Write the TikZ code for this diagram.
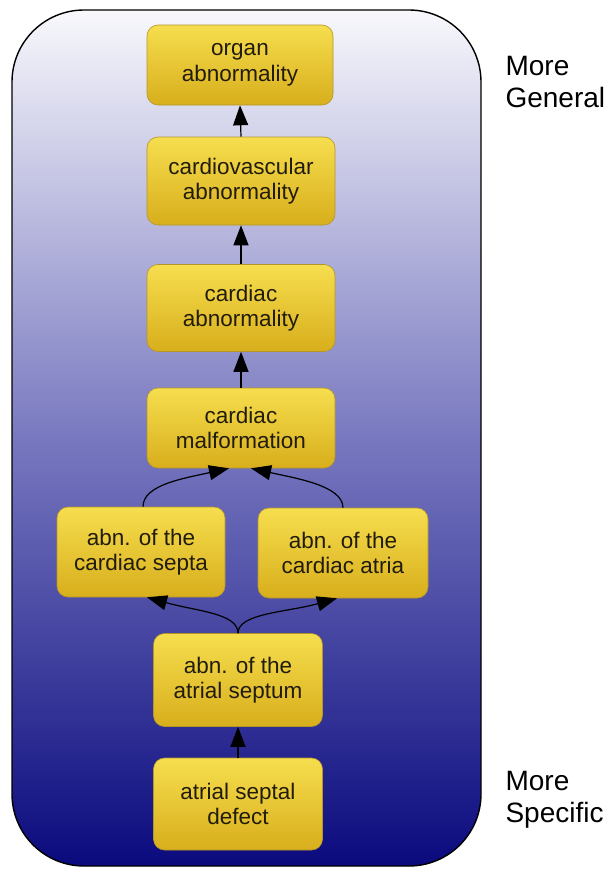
\documentclass[tikz,border=0pt]{standalone}
\usepackage{fontspec}
\setmainfont{Liberation Sans}
\usetikzlibrary{arrows.meta,positioning,calc}

\definecolor{panelTop}{RGB}{248,248,252}
\definecolor{panelMid}{RGB}{120,120,192}
\definecolor{panelBot}{RGB}{10,10,126}
\definecolor{boxTop}{RGB}{246,222,78}
\definecolor{boxBot}{RGB}{216,174,28}
\definecolor{boxEdge}{RGB}{180,150,40}
\definecolor{ink}{RGB}{34,28,12}

\tikzset{
  term/.style={draw=boxEdge, line width=0.6pt, rounded corners=11pt,
    top color=boxTop, bottom color=boxBot, text=ink, align=center,
    font=\fontsize{22.5}{25.5}\selectfont, inner sep=0pt},
  isa/.style={draw=black, line width=1.2pt,
    -{Triangle[length=20pt,width=15pt]}},
  side/.style={align=left, anchor=west, text=black,
    font=\fontsize{28}{32}\selectfont}
}

\begin{document}
\begin{tikzpicture}[x=1pt,y=-1pt]
\useasboundingbox (0,0) rectangle (613,870);

% background panel with vertical gradient
\draw[line width=1.4pt, rounded corners=72pt, top color=panelTop, bottom color=panelBot,
      middle color=panelMid]
  (12,10) rectangle (481,866);

% hierarchy of terms
\node[term, minimum width=186pt, minimum height=80pt] (n1) at (240,65) {organ\\abnormality};
\node[term, minimum width=188pt, minimum height=88pt] (n2) at (241,181) {cardiovascular\\abnormality};
\node[term, minimum width=188pt, minimum height=87pt] (n3) at (241,308) {cardiac\\abnormality};
\node[term, minimum width=188pt, minimum height=80pt] (n4) at (241,428) {cardiac\\malformation};
\node[term, minimum width=168pt, minimum height=90pt] (n5) at (141,552) {abn. of the\\cardiac septa};
\node[term, minimum width=170pt, minimum height=90pt] (n6) at (343,553) {abn. of the\\cardiac atria};
\node[term, minimum width=169pt, minimum height=93pt] (n7) at (238,680) {abn. of the\\atrial septum};
\node[term, minimum width=169pt, minimum height=92pt] (n8) at (238,804) {atrial septal\\defect};

% side labels
\node[side] (gen) at (502,82) {More\\General};
\node[side] (spec) at (502,800) {More\\Specific};

% end points of the curved connectors
\coordinate (m4l) at ([xshift=-12pt]n4.south);
\coordinate (m4r) at ([xshift=10pt]n4.south);
\coordinate (m5) at ([xshift=6pt]n5.south);
\coordinate (m6) at ([xshift=-6pt]n6.south);

% is-a links
\draw[isa] (n2.north) -- (n1.south);
\draw[isa] (n3.north) -- (n2.south);
\draw[isa] (n4.north) -- (n3.south);
\draw[isa] ([xshift=2pt]n5.north) .. controls ([xshift=2pt,yshift=22pt]n5.north) and ($(m4l)+(-45,10)$) .. (m4l);
\draw[isa] (n6.north) .. controls ([yshift=22pt]n6.north) and ($(m4r)+(45,10)$) .. (m4r);
\draw[isa] (n7.north) .. controls ([yshift=20pt]n7.north) and ($(m5)+(50,14)$) .. (m5);
\draw[isa] (n7.north) .. controls ([yshift=20pt]n7.north) and ($(m6)+(-50,14)$) .. (m6);
\draw[isa] (n8.north) -- (n7.south);
\end{tikzpicture}
\end{document}
